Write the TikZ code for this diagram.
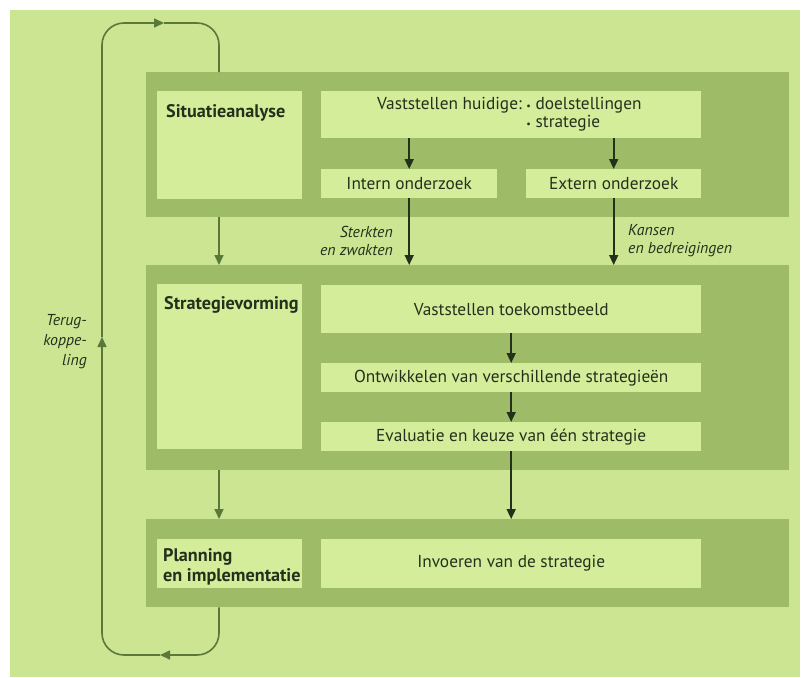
\documentclass[tikz,border=0pt]{standalone}
\usepackage{fontspec}
\setmainfont{PT Sans}
\usetikzlibrary{arrows.meta}
\definecolor{pagebg}{RGB}{203,229,146}
\definecolor{panelbg}{RGB}{158,187,104}
\definecolor{boxbg}{RGB}{212,237,155}
\definecolor{ink}{RGB}{36,48,28}
\definecolor{loopc}{RGB}{90,120,56}

\begin{document}
\begin{tikzpicture}[x=1pt,y=-1pt,
  panel/.style={fill=panelbg, draw=none, anchor=north west, inner sep=0pt, minimum width=643pt},
  box/.style={fill=boxbg, draw=none, anchor=north west, inner sep=0pt},
  lbl/.style={text=ink, inner sep=0pt, font=\fontsize{17.3}{18}\selectfont},
  ttl/.style={lbl, font=\fontsize{18.2}{19.5}\selectfont\bfseries, align=left, anchor=west},
  note/.style={lbl, font=\fontsize{15.8}{18}\selectfont\itshape},
  flow/.style={draw=ink, line width=1.7pt, -{Triangle[width=9pt,length=10pt]}},
  fb/.style={draw=loopc, line width=1.6pt, rounded corners=22pt},
  fbtip/.style={fb, -{Triangle[width=9pt,length=10pt]}},
  fbarrow/.style={draw=loopc, line width=1.6pt, -{Triangle[width=9pt,length=10pt]}},
]
\useasboundingbox (0,0) rectangle (805,677);
\fill[pagebg] (10,10) rectangle (800,677);

% three phase panels
\node[panel, minimum height=145pt] (p1) at (146,72) {};
\node[panel, minimum height=205pt] (p2) at (146,265) {};
\node[panel, minimum height=88pt]  (p3) at (146,519) {};

% phase 1: situation analysis
\node[box, minimum width=145pt, minimum height=108pt] (sa) at (157,91) {};
\node[box, minimum width=380pt, minimum height=47pt]  (vh) at (321,91) {};
\node[box, minimum width=176pt, minimum height=29pt]  (io) at (321,169) {};
\node[box, minimum width=175pt, minimum height=29pt]  (eo) at (526,169) {};

% phase 2: strategy formation
\node[box, minimum width=145pt, minimum height=165pt] (sv)  at (157,284) {};
\node[box, minimum width=380pt, minimum height=48pt]  (vt)  at (321,285) {};
\node[box, minimum width=380pt, minimum height=29pt]  (ont) at (321,363) {};
\node[box, minimum width=380pt, minimum height=29pt]  (ev)  at (321,422) {};

% phase 3: planning and implementation
\node[box, minimum width=145pt, minimum height=49pt] (pi)  at (157,539) {};
\node[box, minimum width=380pt, minimum height=49pt] (inv) at (321,539) {};

% texts
\node[ttl] (tsa) at (166,113) {Situatieanalyse};
\node[lbl, anchor=west] (tvh) at (377,115) {%
  \begin{tabular}{@{}l@{\ }l@{}}
  Vaststellen huidige: & {\fontsize{10}{10}\selectfont •}\ doelstellingen\\
                       & {\fontsize{10}{10}\selectfont •}\ strategie
  \end{tabular}};
\node[lbl] (tio) at (io) {Intern onderzoek};
\node[lbl] (teo) at (eo) {Extern onderzoek};

\node[ttl] (tsv) at (164,305) {Strategievorming};
\node[lbl] (tvt)  at (vt)  {Vaststellen toekomstbeeld};
\node[lbl] (tont) at (ont) {Ontwikkelen van verschillende strategieën};
\node[lbl] (tev)  at (ev)  {Evaluatie en keuze van één strategie};

\node[ttl] (tpi)  at (163,567) {Planning\\en implementatie};
\node[lbl] (tinv) at (inv) {Invoeren van de strategie};

\node[note, align=right, anchor=east] (sw) at (393,241) {Sterkten\\en zwakten};
\node[note, align=left, anchor=west]  (kb) at (628,241) {Kansen\\en bedreigingen};
\node[note, align=right, anchor=east, font=\fontsize{15.8}{20}\selectfont\itshape] (tk) at (87,342) {Terug-\\koppe-\\ling};

% flow inside and between the phases
\draw[flow] (vh.south -| io) -- (io.north);
\draw[flow] (vh.south -| eo) -- (eo.north);
\draw[flow] (io.south) -- (io.south |- p2.north);
\draw[flow] (eo.south) -- (eo.south |- p2.north);
\draw[flow] (vt) -- (ont);
\draw[flow] (ont) -- (ev);
\draw[flow] (ev.south) -- (ev.south |- p3.north);

% phase-to-phase arrows and the feedback loop
\coordinate (fbx) at (219,0);
\coordinate (bm) at (160,655);
\coordinate (lm) at (102,337);
\coordinate (tm) at (164,23);
\draw[fbarrow] (p1.south -| fbx) -- (p2.north -| fbx);
\draw[fbarrow] (p2.south -| fbx) -- (p3.north -| fbx);
\draw[fbtip] (p3.south -| fbx) |- (bm);
\draw[fbtip] (bm) -| (lm);
\draw[fbtip] (lm) |- (tm);
\draw[fb] (tm) -| (p1.north -| fbx);
\end{tikzpicture}
\end{document}
